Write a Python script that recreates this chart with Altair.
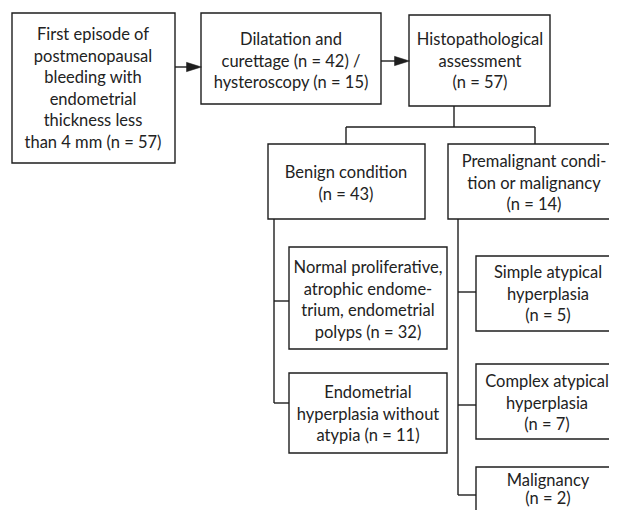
import altair as alt
import pandas as pd

# Flowchart content
box_names = ["start", "procedure", "histo", "benign", "premal",
             "normal", "endo", "simple", "complex", "malig"]
box_labels = [
    ["First episode of", "postmenopausal", "bleeding with", "endometrial",
     "thickness less", "than 4 mm (n = 57)"],
    ["Dilatation and", "curettage (n = 42) /", "hysteroscopy (n = 15)"],
    ["Histopathological", "assessment", "(n = 57)"],
    ["Benign condition", "(n = 43)"],
    ["Premalignant condi-", "tion or malignancy", "(n = 14)"],
    ["Normal proliferative,", "atrophic endome-", "trium, endometrial", "polyps (n = 32)"],
    ["Endometrial", "hyperplasia without", "atypia (n = 11)"],
    ["Simple atypical", "hyperplasia", "(n = 5)"],
    ["Complex atypical", "hyperplasia", "(n = 7)"],
    ["Malignancy", "(n = 2)"],
]

# Layout (pixel positions of the diagram)
box_x1 = [12, 201, 409, 268, 448, 289, 289, 476, 476, 476]
box_x2 = [175, 381, 550, 425, 622, 447, 447, 622, 622, 622]
box_y1 = [13, 13, 15, 144, 144, 247, 373, 256, 364, 467]
box_y2 = [163, 104, 106, 219, 219, 349, 453, 331, 439, 530]
text_cx = [93, 291, 480, 346, 534, 368, 368, 548, 547, 548]
text_y0 = [35, 40, 40, 173, 162, 268, 393, 273, 382, 480.5]
LINE_H = 21.6

seg_x1 = [175, 381, 454, 346, 346, 535, 274, 274, 274, 458, 458, 458, 458]
seg_x2 = [187, 395, 454, 535, 346, 535, 274, 289, 289, 458, 476, 476, 476]
seg_y1 = [67, 61, 106, 127, 127, 127, 219, 301, 403, 219, 292, 405, 495]
seg_y2 = [67, 61, 127, 127, 144, 144, 403, 301, 403, 495, 292, 405, 495]

arrow_x = [194, 402]
arrow_y = [67, 61]

boxes = pd.DataFrame({"name": box_names, "x1": box_x1, "x2": box_x2,
                      "y1": box_y1, "y2": box_y2})
rows = []
for name, lines, cx, y0 in zip(box_names, box_labels, text_cx, text_y0):
    lh = 18.5 if name == "malig" else LINE_H
    for i, t in enumerate(lines):
        rows.append({"name": name, "x": cx, "y": y0 + i * lh, "t": t})
texts = pd.DataFrame(rows)
segs = pd.DataFrame({"x1": seg_x1, "x2": seg_x2, "y1": seg_y1, "y2": seg_y2})
arrows = pd.DataFrame({"x": arrow_x, "y": arrow_y})

W, H = 601, 502
xs = alt.Scale(domain=[8, 8 + W], nice=False, zero=False)
ys = alt.Scale(domain=[8, 8 + H], nice=False, zero=False, reverse=True)
INK = "#1e1e1e"

rect = alt.Chart(boxes).mark_rect(fill="white", stroke=INK, strokeWidth=1.4, clip=True).encode(
    x=alt.X("x1:Q", scale=xs, axis=None), x2="x2:Q",
    y=alt.Y("y1:Q", scale=ys, axis=None), y2="y2:Q")

lines = alt.Chart(segs).mark_rule(color=INK, strokeWidth=1.4, clip=True).encode(
    x=alt.X("x1:Q", scale=xs, axis=None), x2="x2:Q",
    y=alt.Y("y1:Q", scale=ys, axis=None), y2="y2:Q")

heads = alt.Chart(arrows).mark_point(
    shape="M-1,-0.62L1,0L-1,0.62Z", size=225, filled=True, fill=INK,
    stroke=INK, strokeWidth=0.5, opacity=1).encode(
    x=alt.X("x:Q", scale=xs, axis=None), y=alt.Y("y:Q", scale=ys, axis=None))

txt = alt.Chart(texts).mark_text(font="Lato", fontSize=16.5, color="#222",
                                 align="center", baseline="middle").encode(
    x=alt.X("x:Q", scale=xs, axis=None), y=alt.Y("y:Q", scale=ys, axis=None),
    text="t:N")

chart = alt.layer(lines, rect, heads, txt).properties(
    width=W, height=H, padding=0, autosize=alt.AutoSizeParams(type="none")
).configure_view(stroke=None)

chart.save("out.html", embed_options={"renderer": "svg", "actions": False})
